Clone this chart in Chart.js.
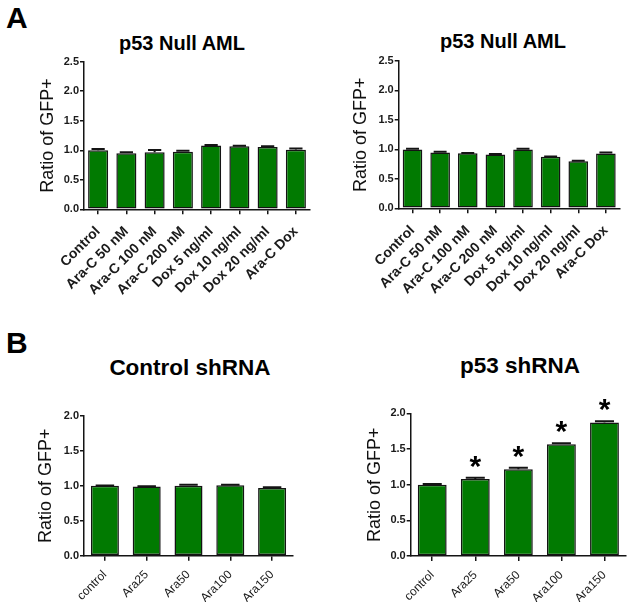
<!DOCTYPE html>
<html>
<head>
<meta charset="utf-8">
<script src="https://cdn.jsdelivr.net/npm/chart.js@4"></script>
<style>
  html, body { margin: 0; padding: 0; background: #fff; }
  #wrap { position: relative; width: 637px; height: 602px; overflow: hidden; background: #fff;
          font-family: 'Liberation Sans', Arial, Helvetica, sans-serif; color: #000; }
  canvas { position: absolute; }
  .letter { position: absolute; font-weight: bold; font-size: 30px; line-height: 30px; }
  .ttl { position: absolute; font-weight: bold; text-align: center; width: 300px; white-space: nowrap; }
</style>
</head>
<body>
<div id="wrap">
  <div class="letter" style="left:6px;top:3px;">A</div>
  <div class="letter" style="left:6px;top:328px;">B</div>
  <div class="ttl" style="left:32px;top:33px;font-size:20px;line-height:20px;">p53 Null AML</div>
  <div class="ttl" style="left:353px;top:31px;font-size:20px;line-height:20px;">p53 Null AML</div>
  <div class="ttl" style="left:40px;top:357px;font-size:22.5px;line-height:22.5px;">Control shRNA</div>
  <div class="ttl" style="left:370px;top:355px;font-size:22.5px;line-height:22.5px;">p53 shRNA</div>
  <canvas id="cA1" width="318" height="300" style="left:0;top:0;width:318px;height:300px;"></canvas>
  <canvas id="cA2" width="319" height="300" style="left:318px;top:0;width:319px;height:300px;"></canvas>
  <canvas id="cB1" width="318" height="302" style="left:0;top:300px;width:318px;height:302px;"></canvas>
  <canvas id="cB2" width="319" height="302" style="left:318px;top:300px;width:319px;height:302px;"></canvas>
</div>
<script>
// ---- data ----
const catsA = ['Control', 'Ara-C 50 nM', 'Ara-C 100 nM', 'Ara-C 200 nM', 'Dox 5 ng/ml', 'Dox 10 ng/ml', 'Dox 20 ng/ml', 'Ara-C Dox'];
const ratioA1 = [1.00, 0.95, 0.965, 0.975, 1.08, 1.07, 1.055, 1.01];
const errA1   = [0.02, 0.015, 0.04, 0.015, 0.01, 0.008, 0.015, 0.02];
const ratioA2 = [1.00, 0.945, 0.935, 0.915, 1.00, 0.875, 0.80, 0.93];
const errA2   = [0.01, 0.015, 0.005, 0.008, 0.012, 0.005, 0.008, 0.015];
const catsB = ['control', 'Ara25', 'Ara50', 'Ara100', 'Ara150'];
const ratioB1 = [1.00, 0.99, 1.00, 1.01, 0.97];
const errB1   = [0.004, 0.004, 0.015, 0.006, 0.01];
const ratioB2 = [1.00, 1.08, 1.215, 1.565, 1.87];
const errB2   = [0.008, 0.016, 0.022, 0.014, 0.02];
const sigB2   = [false, true, true, true, true];
const yTicksA = [0, 0.5, 1.0, 1.5, 2.0, 2.5];
const yTicksB = [0, 0.5, 1.0, 1.5, 2.0];
const yTitle = 'Ratio of GFP+';

const FONT = "'Liberation Sans', Arial, Helvetica, sans-serif";
const GREEN = '#017a01';
const INK = '#141414';

const errorBars = {
  id: 'errorBars',
  afterDatasetsDraw(chart, args, opts) {
    const ctx = chart.ctx;
    const ys = chart.scales.y;
    const meta = chart.getDatasetMeta(0);
    const vals = chart.data.datasets[0].data;
    meta.data.forEach((bar, i) => {
      const yTop = ys.getPixelForValue(vals[i] + opts.errors[i]);
      const half = bar.width * 0.33;
      ctx.save();
      ctx.strokeStyle = INK;
      ctx.lineWidth = 2;
      ctx.beginPath();
      ctx.moveTo(bar.x, bar.y);
      ctx.lineTo(bar.x, yTop);
      ctx.moveTo(bar.x - half, yTop);
      ctx.lineTo(bar.x + half, yTop);
      ctx.stroke();
      if (opts.marks && opts.marks[i]) {
        ctx.fillStyle = '#000';
        ctx.font = 'bold 30px ' + FONT;
        ctx.textAlign = 'center';
        ctx.textBaseline = 'alphabetic';
        ctx.fillText('*', bar.x, yTop - 2);
      }
      ctx.restore();
    });
  }
};

function makeChart(id, W, H, area, yTitleX, cats, vals, errs, yTicks, labelFont, labelPad, barPct, marks) {
  const yMax = yTicks[yTicks.length - 1];
  return new Chart(document.getElementById(id), {
    type: 'bar',
    data: {
      labels: cats,
      datasets: [{
        data: vals,
        backgroundColor: GREEN,
        borderColor: INK,
        borderWidth: 1.5,
        borderSkipped: false,
        barPercentage: barPct,
        categoryPercentage: 1.0
      }]
    },
    options: {
      responsive: false,
      animation: false,
      devicePixelRatio: 1,
      layout: { padding: { top: area.t, left: 0, right: W - area.r, bottom: 0 } },
      plugins: {
        legend: { display: false },
        tooltip: { enabled: false },
        title: { display: false },
        errorBars: { errors: errs, marks: marks }
      },
      scales: {
        x: {
          offset: true,
          grid: { display: true, drawOnChartArea: false, drawTicks: true, tickLength: 5, offset: false, color: INK, lineWidth: 1.5 },
          border: { display: true, color: INK, width: 1.5 },
          ticks: { autoSkip: false, minRotation: 45, maxRotation: 45, padding: labelPad, color: '#1a1a1a',
                   font: labelFont },
          afterFit(s) { s.height = H - area.b; }
        },
        y: {
          min: 0, max: yMax,
          afterBuildTicks(s) { s.ticks = yTicks.map(v => ({ value: v })); },
          grid: { display: true, drawOnChartArea: false, drawTicks: true, tickLength: 4, color: INK, lineWidth: 1.5 },
          border: { display: true, color: INK, width: 1.5 },
          ticks: { padding: 1, color: '#1a1a1a', font: { family: FONT, size: 11, weight: 'bold' },
                   callback: v => Number(v).toFixed(1) },
          title: { display: true, text: yTitle, color: '#111', font: { family: FONT, size: 18 },
                   padding: { top: yTitleX - 10.8, bottom: 0 } },
          afterFit(s) { s.width = area.l; }
        }
      }
    },
    plugins: [errorBars]
  });
}

const fontA = { family: FONT, size: 14, weight: 'bold' };
const fontB = { family: FONT, size: 12 };
makeChart('cA1', 318, 300, { l: 84, r: 310, t: 61.7, b: 209.3 }, 48.3, catsA, ratioA1, errA1, yTicksA, fontA, 9, 0.71, null);
makeChart('cA2', 319, 300, { l: 80.7, r: 301.7, t: 61, b: 208.3 }, 43.3, catsA, ratioA2, errA2, yTicksA, fontA, 9, 0.71, null);
makeChart('cB1', 318, 302, { l: 84, r: 293, t: 116, b: 255.7 }, 45.8, catsB, ratioB1, errB1, yTicksB, fontB, 7, 0.67, null);
makeChart('cB2', 319, 302, { l: 92.7, r: 308, t: 113.3, b: 256 }, 56.7, catsB, ratioB2, errB2, yTicksB, fontB, 7, 0.67, sigB2);
</script>
</body>
</html>
